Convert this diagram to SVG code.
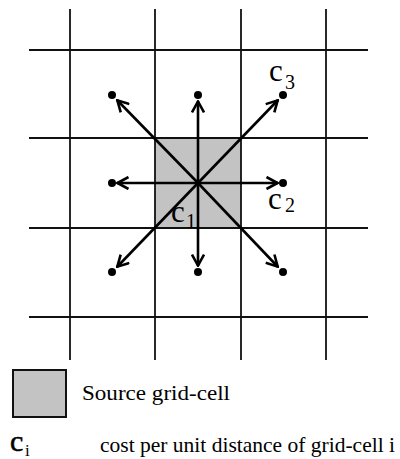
<svg xmlns="http://www.w3.org/2000/svg" width="400" height="459" viewBox="0 0 400 459">
<style>
.grid{stroke:#111;stroke-width:1.8;fill:none}
.arr{stroke:#000;stroke-width:2.6;fill:none;marker-end:url(#ah)}
.dot{fill:#000}
.lbl{font-family:"Liberation Serif","Times New Roman",serif;fill:#000}
</style>
<defs>
<marker id="ah" markerUnits="userSpaceOnUse" viewBox="0 0 14 14" refX="13" refY="7" markerWidth="14" markerHeight="14" orient="auto">
<path d="M1.5,1 L12.5,7 L1.5,13" fill="none" stroke="#000" stroke-width="2.6"/>
</marker>
</defs>
<rect id="source-cell" x="155" y="138" width="86" height="90" fill="#c3c3c3"/>
<g id="grid" class="grid">
<line x1="70" y1="9" x2="70" y2="360"/>
<line x1="155" y1="9" x2="155" y2="360"/>
<line x1="241" y1="9" x2="241" y2="360"/>
<line x1="326" y1="9" x2="326" y2="360"/>
<line x1="29" y1="50" x2="368" y2="50"/>
<line x1="29" y1="138" x2="368" y2="138"/>
<line x1="29" y1="228" x2="368" y2="228"/>
<line x1="29" y1="317" x2="368" y2="317"/>
</g>
<g id="connectors">
<line class="arr" x1="198" y1="183" x2="117" y2="100"/>
<line class="arr" x1="198" y1="183" x2="198" y2="101"/>
<line class="arr" x1="198" y1="183" x2="278" y2="100"/>
<line class="arr" x1="198" y1="183" x2="117" y2="183"/>
<line class="arr" x1="198" y1="183" x2="278" y2="183"/>
<line class="arr" x1="198" y1="183" x2="117" y2="267"/>
<line class="arr" x1="198" y1="183" x2="198" y2="266"/>
<line class="arr" x1="198" y1="183" x2="278" y2="267"/>
</g>
<g id="center"><circle class="dot" cx="198" cy="183" r="3.2"/></g>
<g id="n-nw"><circle class="dot" cx="112" cy="95" r="4"/></g>
<g id="n-n"><circle class="dot" cx="198" cy="95" r="4"/></g>
<g id="n-ne"><circle class="dot" cx="283" cy="95" r="4"/></g>
<g id="n-w"><circle class="dot" cx="112" cy="183" r="4"/></g>
<g id="n-e"><circle class="dot" cx="283" cy="183" r="4"/></g>
<g id="n-sw"><circle class="dot" cx="112" cy="272" r="4"/></g>
<g id="n-s"><circle class="dot" cx="198" cy="272" r="4"/></g>
<g id="n-se"><circle class="dot" cx="283" cy="272" r="4"/></g>
<g id="label-c3" class="lbl">
<text x="269" y="81" font-size="31">c</text>
<text x="285" y="89" font-size="20">3</text>
</g>
<g id="label-c2" class="lbl">
<text x="268" y="209" font-size="31">c</text>
<text x="285" y="212" font-size="20">2</text>
</g>
<g id="label-c1" class="lbl">
<text x="171" y="222" font-size="31">c</text>
<text x="186" y="228" font-size="20">1</text>
</g>
<g id="legend-source">
<rect x="13" y="370" width="53" height="47" fill="#c3c3c3" stroke="#111" stroke-width="2"/>
<text class="lbl" x="82" y="400" font-size="21" textLength="148" lengthAdjust="spacingAndGlyphs">Source grid-cell</text>
</g>
<g id="legend-cost" class="lbl">
<text x="10" y="451" font-size="30" stroke="#000" stroke-width="0.5">c</text>
<text x="25" y="456" font-size="17">i</text>
<text x="100" y="452" font-size="21" textLength="295" lengthAdjust="spacingAndGlyphs">cost per unit distance of grid-cell i</text>
</g>
</svg>
